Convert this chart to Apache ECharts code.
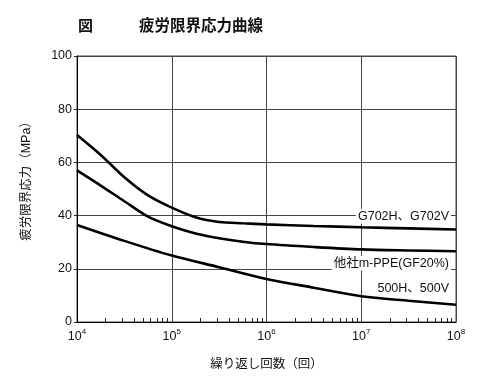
<!DOCTYPE html>
<html>
<head>
<meta charset="utf-8">
<script src="https://cdn.jsdelivr.net/npm/echarts@6/dist/echarts.min.js"></script>
<style>html,body{margin:0;padding:0;background:#fff}#c{width:500px;height:388px}</style>
</head>
<body>
<div id="c"></div>
<script>
// Cycles (log scale) sampled along each curve
var cyclesG702 = [1e4, 1.78e4, 3.16e4, 5.62e4, 1e5, 1.78e5, 3.16e5, 5.62e5, 1e6, 3.16e6, 1e7, 3.16e7, 1e8];
var stressG702 = [70.3, 62.8, 54.4, 47.6, 43.0, 39.4, 37.6, 37.1, 36.7, 36.1, 35.6, 35.2, 34.8];

var cyclesPPE = [1e4, 1.78e4, 3.16e4, 5.62e4, 1e5, 1.78e5, 3.16e5, 5.62e5, 1e6, 3.16e6, 1e7, 3.16e7, 1e8];
var stressPPE = [57.0, 51.3, 45.4, 39.6, 36.0, 33.3, 31.5, 30.2, 29.3, 28.2, 27.3, 26.9, 26.6];

var cycles500 = [1e4, 3.16e4, 1e5, 3.16e5, 1e6, 3.16e6, 1e7, 3.16e7, 1e8];
var stress500 = [36.5, 30.5, 25.0, 20.6, 16.2, 12.9, 9.7, 8.0, 6.5];

var seriesNames = ['G702H、G702V', '他社m-PPE(GF20%)', '500H、500V'];
var minorTickValues = [];
for (var d = 1e4; d < 1e8; d *= 10) { for (var m = 2; m <= 9; m++) minorTickValues.push(d * m); }

function pairs(xs, ys) { return xs.map(function (x, i) { return [x, ys[i]]; }); }

var font = 'Liberation Sans, Noto Sans CJK JP, sans-serif';
function endLabel(text, offset) {
  return {
    show: true, formatter: text, align: 'right', verticalAlign: 'middle',
    distance: 0, offset: offset, color: '#111', fontSize: 12.5, fontFamily: font,
    backgroundColor: '#fff', padding: [1, 2]
  };
}

var chart = echarts.init(document.getElementById('c'), null, {renderer: 'canvas'});
var lineStyle = {color: '#000', width: 2.6};
chart.setOption({
  animation: false,
  backgroundColor: '#fff',
  title: [
    {text: '図', left: 73, top: 14, textStyle: {fontSize: 15, fontWeight: 'bold', color: '#111', fontFamily: font}},
    {text: '疲労限界応力曲線', left: 134, top: 14, textStyle: {fontSize: 15.5, fontWeight: 'bold', color: '#111', fontFamily: font}}
  ],
  grid: {left: 77, right: 44, top: 56, bottom: 66, show: true, borderColor: '#444', borderWidth: 1},
  xAxis: [{
    type: 'log', logBase: 10, min: 1e4, max: 1e8,
    name: '繰り返し回数（回）', nameLocation: 'middle', nameGap: 36,
    nameTextStyle: {fontSize: 12.5, color: '#111', fontFamily: font},
    axisLine: {lineStyle: {color: '#000', width: 1}},
    axisTick: {show: false},
    splitLine: {show: true, lineStyle: {color: '#444', width: 1}},
    axisLabel: {
      margin: 6, color: '#111', fontFamily: font,
      formatter: function (v) { return '{b|10}{s|' + Math.round(Math.log10(v)) + '}'; },
      rich: {
        b: {fontSize: 12.5, lineHeight: 15, verticalAlign: 'bottom', fontFamily: font, color: '#111'},
        s: {fontSize: 8, lineHeight: 8, verticalAlign: 'top', fontFamily: font, color: '#111'}
      }
    }
  }, {
    type: 'log', logBase: 10, min: 1e4, max: 1e8, position: 'bottom',
    axisLine: {show: false}, axisLabel: {show: false}, splitLine: {show: false},
    axisTick: {show: true, inside: true, length: 4, customValues: minorTickValues, lineStyle: {color: '#222'}}
  }],
  yAxis: {
    type: 'value', min: 0, max: 100, interval: 20,
    name: '疲労限界応力（MPa）', nameLocation: 'middle', nameGap: 44, nameRotate: 90,
    nameTextStyle: {fontSize: 12.5, color: '#111', fontFamily: font, padding: [0, 0, 0, 22]},
    axisLine: {show: true, lineStyle: {color: '#000', width: 1}},
    axisTick: {show: true, length: 3, lineStyle: {color: '#222'}},
    splitLine: {show: true, lineStyle: {color: '#444', width: 1}},
    axisLabel: {margin: 5, fontSize: 12.5, color: '#111', fontFamily: font}
  },
  series: [
    {type: 'line', name: seriesNames[0], smooth: 0.3, showSymbol: false, symbol: 'none', lineStyle: lineStyle,
     data: pairs(cyclesG702, stressG702), endLabel: endLabel(seriesNames[0], [-5, -13]), z: 3},
    {type: 'line', name: seriesNames[1], smooth: 0.3, showSymbol: false, symbol: 'none', lineStyle: lineStyle,
     data: pairs(cyclesPPE, stressPPE), endLabel: endLabel(seriesNames[1], [-5, 12]), z: 3},
    {type: 'line', name: seriesNames[2], smooth: 0.3, showSymbol: false, symbol: 'none', lineStyle: lineStyle,
     data: pairs(cycles500, stress500), endLabel: endLabel(seriesNames[2], [-5, -16]), z: 3}
  ]
});
</script>
</body>
</html>
